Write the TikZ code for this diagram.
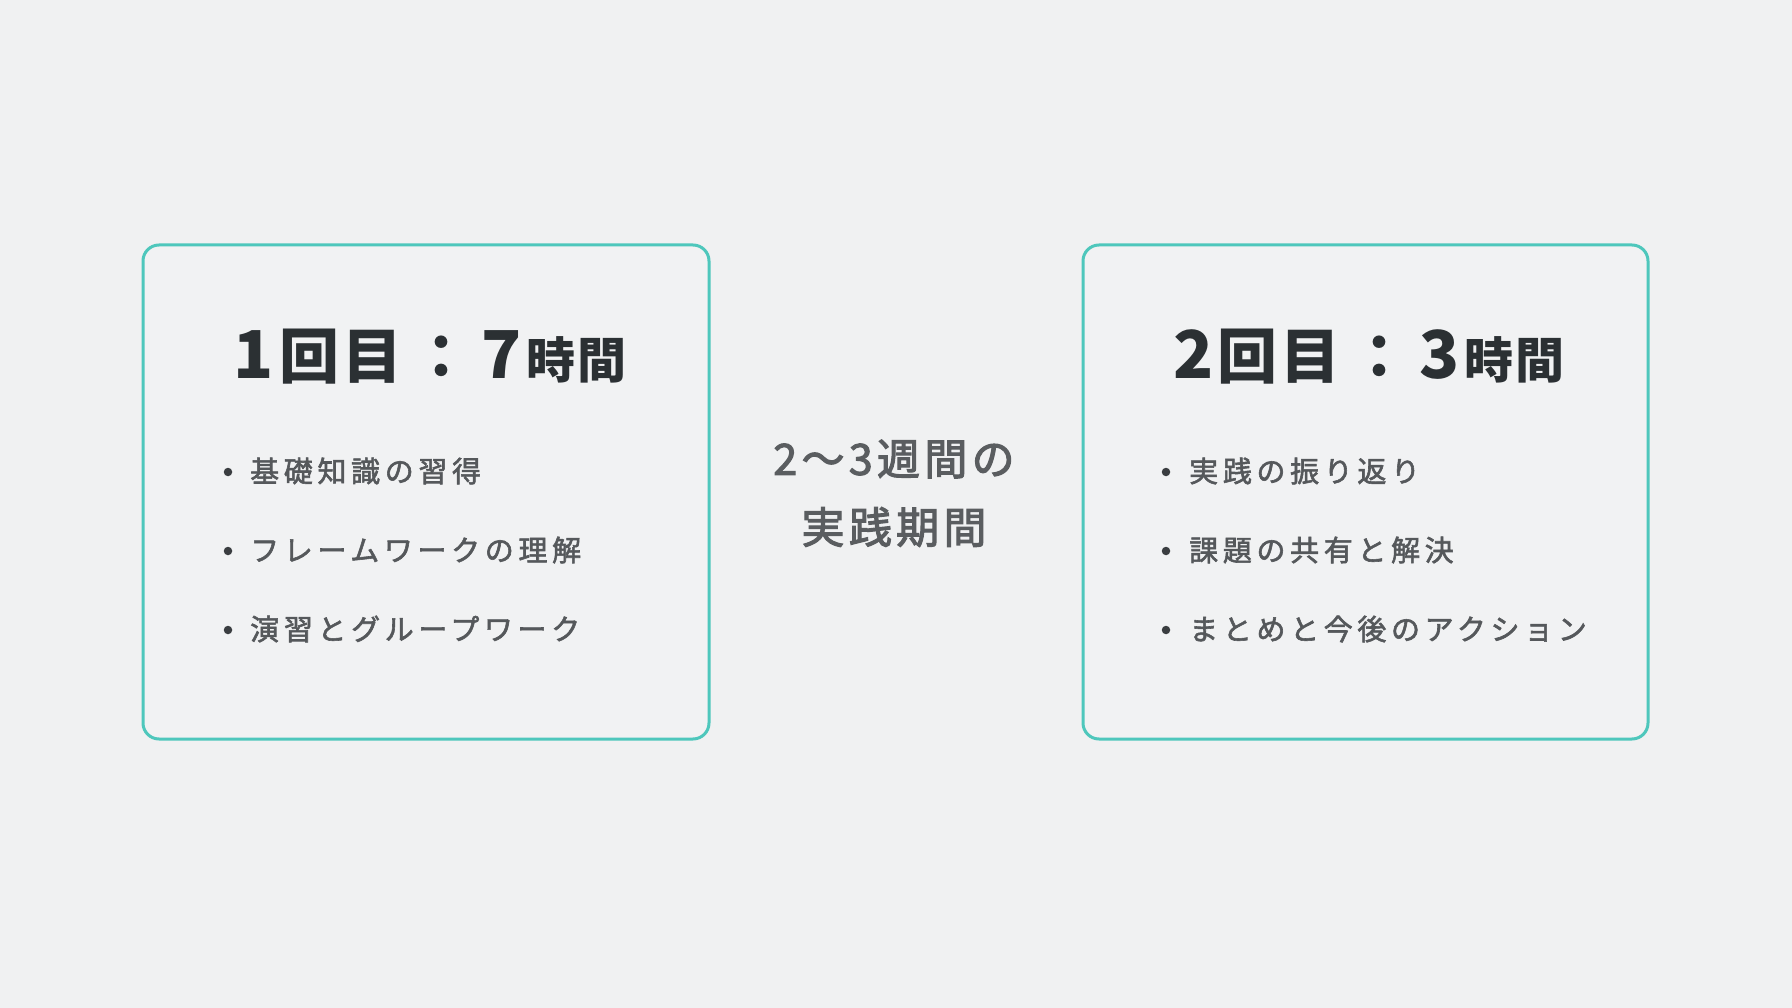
\documentclass[tikz,border=0pt]{standalone}
\usepackage{fontspec}
\newfontfamily\jptitle{Noto Sans CJK JP}[LetterSpace=4]
\newfontfamily\jpitem{Noto Sans CJK JP}[LetterSpace=16,FakeBold=2]
\newfontfamily\jpmid{Noto Sans CJK JP}[LetterSpace=10,FakeBold=2.5]
\definecolor{bgcol}{HTML}{F0F1F2}
\definecolor{boxfill}{HTML}{F1F2F3}
\definecolor{tealline}{HTML}{4EC7BC}
\definecolor{titlecol}{HTML}{2B3033}
\definecolor{itemcol}{HTML}{55585B}
\definecolor{midcol}{HTML}{5A5D60}
\definecolor{dotcol}{HTML}{3A3D40}
\newcommand{\bigdig}[1]{{\fontsize{66}{66}\selectfont #1}}
\newcommand{\bigcjk}[1]{{\fontsize{60}{66}\selectfont #1}}
\newcommand{\smallcjk}[1]{{\fontsize{49}{66}\selectfont #1}}
\tikzset{
  card/.style={draw=tealline, line width=3pt, rounded corners=16pt, fill=boxfill, inner sep=0pt},
  cardtitle/.style={anchor=base, inner sep=0pt, text=titlecol, font=\jptitle\bfseries},
  itemdot/.style={circle, fill=dotcol, inner sep=0pt, minimum size=8.5pt},
  itemtext/.style={anchor=west, inner sep=0pt, text=itemcol, font=\jpitem\fontsize{29}{32}\selectfont},
  midtext/.style={inner sep=0pt, text=midcol, font=\jpmid\fontsize{43}{48}\selectfont}
}
\begin{document}
\begin{tikzpicture}[x=1pt,y=-1pt]
\fill[bgcol] (0,0) rectangle (1792,1008);
\useasboundingbox (0,0) rectangle (1792,1008);
% cards
\node[card, minimum width=566pt, minimum height=494pt] (card1) at (426,492) {};
\node[card, minimum width=565pt, minimum height=494pt] (card2) at (1365.5,492) {};
% titles
\node[cardtitle] (title1) at (430,378) {\bigdig{1}\hspace{6pt}\bigcjk{回目\hspace{9pt}：\hspace{10pt}}\bigdig{7}\hspace{5pt}\smallcjk{時間}};
\node[cardtitle] (title2) at (1369,378) {\bigdig{2}\hspace{4pt}\bigcjk{回目\hspace{9pt}：\hspace{10pt}}\bigdig{3}\hspace{5pt}\smallcjk{時間}};
% left items
\node[itemdot] (d11) at (228,472) {};
\node[itemtext] (t11) at (250,471) {基礎知識の習得};
\node[itemdot] (d12) at (228,551) {};
\node[itemtext] (t12) at (250,550) {フレームワークの理解};
\node[itemdot] (d13) at (228,630) {};
\node[itemtext] (t13) at (250,629) {演習とグループワーク};
% right items
\node[itemdot] (d21) at (1166,472) {};
\node[itemtext] (t21) at (1189,471) {実践の振り返り};
\node[itemdot] (d22) at (1166,551) {};
\node[itemtext] (t22) at (1189,550) {課題の共有と解決};
\node[itemdot] (d23) at (1166,630) {};
\node[itemtext] (t23) at (1189,629) {まとめと今後のアクション};
% middle
\node[midtext] (mid1) at (894,459) {2〜3週間の};
\node[midtext] (mid2) at (894,527) {実践期間};
\end{tikzpicture}
\end{document}
